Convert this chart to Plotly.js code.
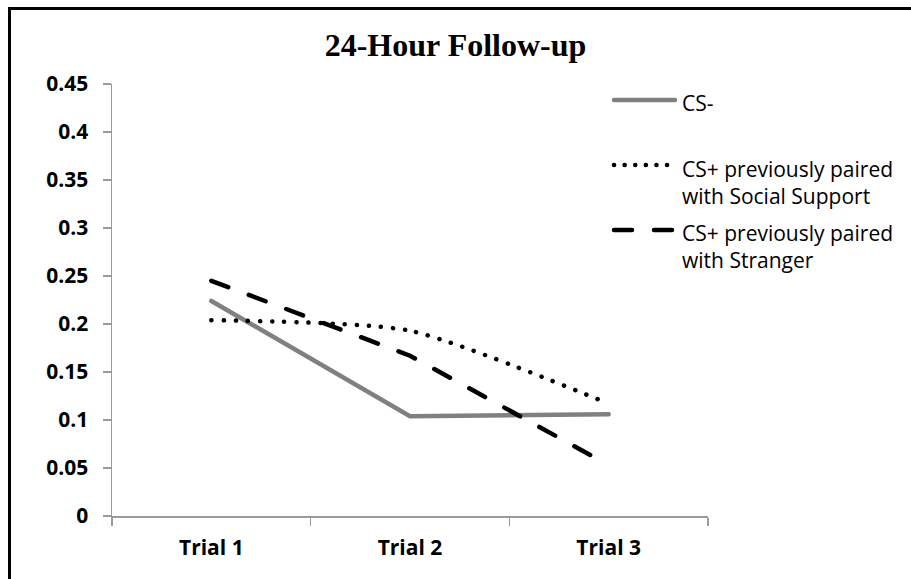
<!DOCTYPE html>
<html>
<head>
<meta charset="utf-8">
<script src="https://cdn.plot.ly/plotly-3.0.1.min.js"></script>
<style>
  html, body { margin: 0; padding: 0; background: #fff; }
  #wrap { position: relative; width: 911px; height: 579px; overflow: hidden; }
  #chart { width: 911px; height: 579px; }
  #frame { position: absolute; left: 8px; top: 7px; width: 1000px; height: 700px;
           border-left: 3px solid #000; border-top: 3px solid #000; pointer-events: none; }
  .js-line, .shapelayer path { stroke-linecap: round !important; }
</style>
</head>
<body>
<div id="wrap">
  <div id="chart"></div>
  <div id="frame"></div>
</div>
<script>
const categories = ["Trial 1", "Trial 2", "Trial 3"];
const csMinus = [0.224, 0.104, 0.106];
const csPlusSocial = [0.204, 0.193, 0.117];
const csPlusStranger = [0.245, 0.167, 0.053];
const seriesNames = ["CS-", "CS+ previously paired<br>with Social Support", "CS+ previously paired<br>with Stranger"];
const yTicks = [0, 0.05, 0.1, 0.15, 0.2, 0.25, 0.3, 0.35, 0.4, 0.45];

const L = 112, R = 708, T = 84, B = 516, W = 911, H = 579;
const px2x = p => (p - L) / (R - L);
const px2y = p => (B - p) / (B - T);

const styles = [
  {color: '#808080', width: 4.5, dash: 'solid', shape: 'linear'},
  {color: '#000000', width: 4.5, dash: '0.1px,12px', shape: 'spline'},
  {color: '#000000', width: 4.5, dash: '18px,22px', shape: 'linear'}
];
const series = [csMinus, csPlusSocial, csPlusStranger];

const traces = series.map((vals, i) => ({
  type: 'scatter', mode: 'lines', x: categories, y: vals, name: seriesNames[i],
  line: {color: styles[i].color, width: styles[i].width, dash: styles[i].dash,
         shape: styles[i].shape, smoothing: 0.6},
  showlegend: false, hoverinfo: 'skip'
}));

// manual legend
const legendRows = [
  {lineY: 100, textY: 103},
  {lineY: 165, textY: 182},
  {lineY: 230, textY: 247}
];
const shapes = [];
const annotations = [];
legendRows.forEach((r, i) => {
  shapes.push({type: 'line', xref: 'paper', yref: 'paper',
    x0: px2x(614), x1: px2x(675), y0: px2y(r.lineY), y1: px2y(r.lineY),
    line: {color: styles[i].color, width: styles[i].width, dash: i === 1 ? '0.1px,10.5px' : styles[i].dash}});
  annotations.push({xref: 'paper', yref: 'paper', x: px2x(680), y: px2y(r.textY),
    xanchor: 'left', yanchor: 'middle', align: 'left', showarrow: false,
    text: seriesNames[i], font: {family: 'Open Sans, sans-serif', size: 21, color: '#000'}});
});

const layout = {
  width: W, height: H,
  margin: {l: L, r: W - R, t: T, b: H - B, pad: 0},
  paper_bgcolor: '#fff', plot_bgcolor: '#fff',
  title: {text: '<b>24-Hour Follow-up</b>', x: 0.5, xanchor: 'center',
          y: 1 - 45 / H, yref: 'container', yanchor: 'middle',
          font: {family: 'Liberation Serif, Times New Roman, serif', size: 32, color: '#000'}},
  xaxis: {type: 'category', range: [-0.5, 2.5], showgrid: false, zeroline: false,
          showline: true, linecolor: '#9a9a9a', linewidth: 1.5,
          ticks: 'outside', tickson: 'boundaries', ticklen: 8, tickcolor: '#9a9a9a', tickwidth: 1.5,
          tickfont: {family: 'Open Sans, sans-serif', size: 21, color: '#000', weight: 'bold'},
          ticklabelstandoff: 12, fixedrange: true},
  yaxis: {range: [0, 0.45], tickvals: yTicks, showgrid: false, zeroline: false,
          showline: true, linecolor: '#9a9a9a', linewidth: 1.5,
          ticks: 'outside', ticklen: 8, tickcolor: '#9a9a9a', tickwidth: 1.5,
          tickfont: {family: 'Open Sans, sans-serif', size: 21, color: '#000', weight: 'bold'},
          ticklabelstandoff: 10, fixedrange: true},
  shapes: shapes, annotations: annotations, showlegend: false
};

Plotly.newPlot('chart', traces, layout, {displayModeBar: false, staticPlot: true});
</script>
</body>
</html>
